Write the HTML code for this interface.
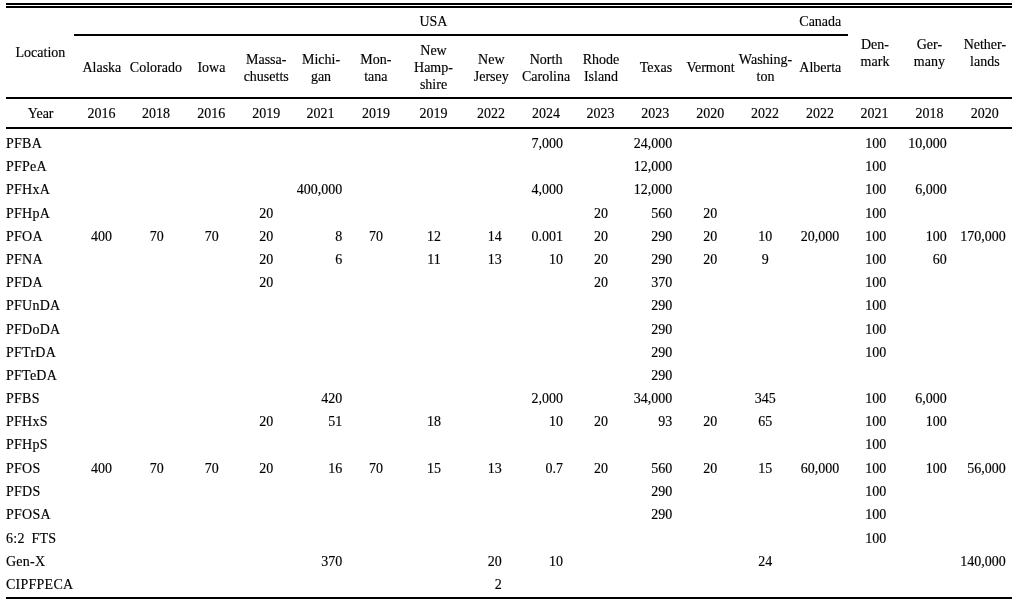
<!DOCTYPE html>
<html><head><meta charset="utf-8"><style>
html,body{margin:0;padding:0;background:#fff;width:1022px;height:603px;overflow:hidden}
body{position:relative;will-change:transform}
.t{position:absolute;font-family:"Liberation Serif",serif;font-size:14px;line-height:20px;height:20px;white-space:nowrap;color:#000;-webkit-text-stroke:0.15px #000}
.ln{position:absolute;background:#000}
</style></head><body>
<div class="ln" style="left:6px;top:3px;width:1006px;height:2px"></div>
<div class="ln" style="left:6px;top:6px;width:1006px;height:2px"></div>
<div class="ln" style="left:74px;top:34px;width:774px;height:2px"></div>
<div class="ln" style="left:6px;top:97px;width:1006px;height:2px"></div>
<div class="ln" style="left:6px;top:127px;width:1006px;height:2px"></div>
<div class="ln" style="left:6px;top:597px;width:1006px;height:2px"></div>
<div class="t" style="left:373.40px;width:120px;text-align:center;top:12.00px">USA</div>
<div class="t" style="left:760.30px;width:120px;text-align:center;top:12.00px">Canada</div>
<div class="t" style="left:-19.60px;width:120px;text-align:center;top:43.00px">Location</div>
<div class="t" style="left:41.90px;width:120px;text-align:center;top:58.10px">Alaska</div>
<div class="t" style="left:95.90px;width:120px;text-align:center;top:58.10px">Colorado</div>
<div class="t" style="left:151.40px;width:120px;text-align:center;top:58.10px">Iowa</div>
<div class="t" style="left:206.20px;width:120px;text-align:center;top:50.20px">Massa-</div>
<div class="t" style="left:206.20px;width:120px;text-align:center;top:66.70px">chusetts</div>
<div class="t" style="left:261.00px;width:120px;text-align:center;top:50.20px">Michi-</div>
<div class="t" style="left:261.00px;width:120px;text-align:center;top:66.70px">gan</div>
<div class="t" style="left:315.90px;width:120px;text-align:center;top:50.20px">Mon-</div>
<div class="t" style="left:315.90px;width:120px;text-align:center;top:66.70px">tana</div>
<div class="t" style="left:373.50px;width:120px;text-align:center;top:40.50px">New</div>
<div class="t" style="left:373.50px;width:120px;text-align:center;top:57.60px">Hamp-</div>
<div class="t" style="left:373.50px;width:120px;text-align:center;top:74.70px">shire</div>
<div class="t" style="left:431.30px;width:120px;text-align:center;top:50.20px">New</div>
<div class="t" style="left:431.30px;width:120px;text-align:center;top:66.70px">Jersey</div>
<div class="t" style="left:486.10px;width:120px;text-align:center;top:50.20px">North</div>
<div class="t" style="left:486.10px;width:120px;text-align:center;top:66.70px">Carolina</div>
<div class="t" style="left:541.00px;width:120px;text-align:center;top:50.20px">Rhode</div>
<div class="t" style="left:541.00px;width:120px;text-align:center;top:66.70px">Island</div>
<div class="t" style="left:596.00px;width:120px;text-align:center;top:58.10px">Texas</div>
<div class="t" style="left:650.50px;width:120px;text-align:center;top:58.10px">Vermont</div>
<div class="t" style="left:705.50px;width:120px;text-align:center;top:50.20px">Washing-</div>
<div class="t" style="left:705.50px;width:120px;text-align:center;top:66.70px">ton</div>
<div class="t" style="left:760.30px;width:120px;text-align:center;top:58.10px">Alberta</div>
<div class="t" style="left:815.00px;width:120px;text-align:center;top:34.70px">Den-</div>
<div class="t" style="left:815.00px;width:120px;text-align:center;top:52.00px">mark</div>
<div class="t" style="left:869.40px;width:120px;text-align:center;top:34.70px">Ger-</div>
<div class="t" style="left:869.40px;width:120px;text-align:center;top:52.00px">many</div>
<div class="t" style="left:924.90px;width:120px;text-align:center;top:34.70px">Nether-</div>
<div class="t" style="left:924.90px;width:120px;text-align:center;top:52.00px">lands</div>
<div class="t" style="left:-19.40px;width:120px;text-align:center;top:104.00px">Year</div>
<div class="t" style="left:41.50px;width:120px;text-align:center;top:104.00px">2016</div>
<div class="t" style="left:95.90px;width:120px;text-align:center;top:104.00px">2018</div>
<div class="t" style="left:151.20px;width:120px;text-align:center;top:104.00px">2016</div>
<div class="t" style="left:206.30px;width:120px;text-align:center;top:104.00px">2019</div>
<div class="t" style="left:260.50px;width:120px;text-align:center;top:104.00px">2021</div>
<div class="t" style="left:315.90px;width:120px;text-align:center;top:104.00px">2019</div>
<div class="t" style="left:373.40px;width:120px;text-align:center;top:104.00px">2019</div>
<div class="t" style="left:431.00px;width:120px;text-align:center;top:104.00px">2022</div>
<div class="t" style="left:486.00px;width:120px;text-align:center;top:104.00px">2024</div>
<div class="t" style="left:540.40px;width:120px;text-align:center;top:104.00px">2023</div>
<div class="t" style="left:595.30px;width:120px;text-align:center;top:104.00px">2023</div>
<div class="t" style="left:650.30px;width:120px;text-align:center;top:104.00px">2020</div>
<div class="t" style="left:704.90px;width:120px;text-align:center;top:104.00px">2022</div>
<div class="t" style="left:760.00px;width:120px;text-align:center;top:104.00px">2022</div>
<div class="t" style="left:814.40px;width:120px;text-align:center;top:104.00px">2021</div>
<div class="t" style="left:869.60px;width:120px;text-align:center;top:104.00px">2018</div>
<div class="t" style="left:924.80px;width:120px;text-align:center;top:104.00px">2020</div>
<div class="t" style="left:6.00px;top:134.00px;letter-spacing:0.25px">PFBA</div>
<div class="t" style="left:442.90px;width:120px;text-align:right;top:134.00px">7,000</div>
<div class="t" style="left:552.20px;width:120px;text-align:right;top:134.00px">24,000</div>
<div class="t" style="left:815.70px;width:120px;text-align:center;top:134.00px">100</div>
<div class="t" style="left:826.70px;width:120px;text-align:right;top:134.00px">10,000</div>
<div class="t" style="left:6.00px;top:157.00px;letter-spacing:0.25px">PFPeA</div>
<div class="t" style="left:552.20px;width:120px;text-align:right;top:157.00px">12,000</div>
<div class="t" style="left:815.70px;width:120px;text-align:center;top:157.00px">100</div>
<div class="t" style="left:6.00px;top:180.00px;letter-spacing:0.25px">PFHxA</div>
<div class="t" style="left:222.20px;width:120px;text-align:right;top:180.00px">400,000</div>
<div class="t" style="left:442.90px;width:120px;text-align:right;top:180.00px">4,000</div>
<div class="t" style="left:552.20px;width:120px;text-align:right;top:180.00px">12,000</div>
<div class="t" style="left:815.70px;width:120px;text-align:center;top:180.00px">100</div>
<div class="t" style="left:826.70px;width:120px;text-align:right;top:180.00px">6,000</div>
<div class="t" style="left:6.00px;top:204.00px;letter-spacing:0.25px">PFHpA</div>
<div class="t" style="left:206.20px;width:120px;text-align:center;top:204.00px">20</div>
<div class="t" style="left:541.00px;width:120px;text-align:center;top:204.00px">20</div>
<div class="t" style="left:552.20px;width:120px;text-align:right;top:204.00px">560</div>
<div class="t" style="left:650.30px;width:120px;text-align:center;top:204.00px">20</div>
<div class="t" style="left:815.70px;width:120px;text-align:center;top:204.00px">100</div>
<div class="t" style="left:6.00px;top:227.00px;letter-spacing:0.25px">PFOA</div>
<div class="t" style="left:41.50px;width:120px;text-align:center;top:227.00px">400</div>
<div class="t" style="left:96.70px;width:120px;text-align:center;top:227.00px">70</div>
<div class="t" style="left:151.80px;width:120px;text-align:center;top:227.00px">70</div>
<div class="t" style="left:206.20px;width:120px;text-align:center;top:227.00px">20</div>
<div class="t" style="left:222.20px;width:120px;text-align:right;top:227.00px">8</div>
<div class="t" style="left:316.00px;width:120px;text-align:center;top:227.00px">70</div>
<div class="t" style="left:374.00px;width:120px;text-align:center;top:227.00px">12</div>
<div class="t" style="left:381.70px;width:120px;text-align:right;top:227.00px">14</div>
<div class="t" style="left:442.90px;width:120px;text-align:right;top:227.00px">0.001</div>
<div class="t" style="left:541.00px;width:120px;text-align:center;top:227.00px">20</div>
<div class="t" style="left:552.20px;width:120px;text-align:right;top:227.00px">290</div>
<div class="t" style="left:650.30px;width:120px;text-align:center;top:227.00px">20</div>
<div class="t" style="left:705.20px;width:120px;text-align:center;top:227.00px">10</div>
<div class="t" style="left:760.00px;width:120px;text-align:center;top:227.00px">20,000</div>
<div class="t" style="left:815.70px;width:120px;text-align:center;top:227.00px">100</div>
<div class="t" style="left:826.70px;width:120px;text-align:right;top:227.00px">100</div>
<div class="t" style="left:885.80px;width:120px;text-align:right;top:227.00px">170,000</div>
<div class="t" style="left:6.00px;top:250.00px;letter-spacing:0.25px">PFNA</div>
<div class="t" style="left:206.20px;width:120px;text-align:center;top:250.00px">20</div>
<div class="t" style="left:222.20px;width:120px;text-align:right;top:250.00px">6</div>
<div class="t" style="left:374.00px;width:120px;text-align:center;top:250.00px">11</div>
<div class="t" style="left:381.70px;width:120px;text-align:right;top:250.00px">13</div>
<div class="t" style="left:442.90px;width:120px;text-align:right;top:250.00px">10</div>
<div class="t" style="left:541.00px;width:120px;text-align:center;top:250.00px">20</div>
<div class="t" style="left:552.20px;width:120px;text-align:right;top:250.00px">290</div>
<div class="t" style="left:650.30px;width:120px;text-align:center;top:250.00px">20</div>
<div class="t" style="left:705.20px;width:120px;text-align:center;top:250.00px">9</div>
<div class="t" style="left:815.70px;width:120px;text-align:center;top:250.00px">100</div>
<div class="t" style="left:826.70px;width:120px;text-align:right;top:250.00px">60</div>
<div class="t" style="left:6.00px;top:273.00px;letter-spacing:0.25px">PFDA</div>
<div class="t" style="left:206.20px;width:120px;text-align:center;top:273.00px">20</div>
<div class="t" style="left:541.00px;width:120px;text-align:center;top:273.00px">20</div>
<div class="t" style="left:552.20px;width:120px;text-align:right;top:273.00px">370</div>
<div class="t" style="left:815.70px;width:120px;text-align:center;top:273.00px">100</div>
<div class="t" style="left:6.00px;top:296.00px;letter-spacing:0.25px">PFUnDA</div>
<div class="t" style="left:552.20px;width:120px;text-align:right;top:296.00px">290</div>
<div class="t" style="left:815.70px;width:120px;text-align:center;top:296.00px">100</div>
<div class="t" style="left:6.00px;top:320.00px;letter-spacing:0.25px">PFDoDA</div>
<div class="t" style="left:552.20px;width:120px;text-align:right;top:320.00px">290</div>
<div class="t" style="left:815.70px;width:120px;text-align:center;top:320.00px">100</div>
<div class="t" style="left:6.00px;top:343.00px;letter-spacing:0.25px">PFTrDA</div>
<div class="t" style="left:552.20px;width:120px;text-align:right;top:343.00px">290</div>
<div class="t" style="left:815.70px;width:120px;text-align:center;top:343.00px">100</div>
<div class="t" style="left:6.00px;top:366.00px;letter-spacing:0.25px">PFTeDA</div>
<div class="t" style="left:552.20px;width:120px;text-align:right;top:366.00px">290</div>
<div class="t" style="left:6.00px;top:389.00px;letter-spacing:0.25px">PFBS</div>
<div class="t" style="left:222.20px;width:120px;text-align:right;top:389.00px">420</div>
<div class="t" style="left:442.90px;width:120px;text-align:right;top:389.00px">2,000</div>
<div class="t" style="left:552.20px;width:120px;text-align:right;top:389.00px">34,000</div>
<div class="t" style="left:705.20px;width:120px;text-align:center;top:389.00px">345</div>
<div class="t" style="left:815.70px;width:120px;text-align:center;top:389.00px">100</div>
<div class="t" style="left:826.70px;width:120px;text-align:right;top:389.00px">6,000</div>
<div class="t" style="left:6.00px;top:412.00px;letter-spacing:0.25px">PFHxS</div>
<div class="t" style="left:206.20px;width:120px;text-align:center;top:412.00px">20</div>
<div class="t" style="left:222.20px;width:120px;text-align:right;top:412.00px">51</div>
<div class="t" style="left:374.00px;width:120px;text-align:center;top:412.00px">18</div>
<div class="t" style="left:442.90px;width:120px;text-align:right;top:412.00px">10</div>
<div class="t" style="left:541.00px;width:120px;text-align:center;top:412.00px">20</div>
<div class="t" style="left:552.20px;width:120px;text-align:right;top:412.00px">93</div>
<div class="t" style="left:650.30px;width:120px;text-align:center;top:412.00px">20</div>
<div class="t" style="left:705.20px;width:120px;text-align:center;top:412.00px">65</div>
<div class="t" style="left:815.70px;width:120px;text-align:center;top:412.00px">100</div>
<div class="t" style="left:826.70px;width:120px;text-align:right;top:412.00px">100</div>
<div class="t" style="left:6.00px;top:435.00px;letter-spacing:0.25px">PFHpS</div>
<div class="t" style="left:815.70px;width:120px;text-align:center;top:435.00px">100</div>
<div class="t" style="left:6.00px;top:459.00px;letter-spacing:0.25px">PFOS</div>
<div class="t" style="left:41.50px;width:120px;text-align:center;top:459.00px">400</div>
<div class="t" style="left:96.70px;width:120px;text-align:center;top:459.00px">70</div>
<div class="t" style="left:151.80px;width:120px;text-align:center;top:459.00px">70</div>
<div class="t" style="left:206.20px;width:120px;text-align:center;top:459.00px">20</div>
<div class="t" style="left:222.20px;width:120px;text-align:right;top:459.00px">16</div>
<div class="t" style="left:316.00px;width:120px;text-align:center;top:459.00px">70</div>
<div class="t" style="left:374.00px;width:120px;text-align:center;top:459.00px">15</div>
<div class="t" style="left:381.70px;width:120px;text-align:right;top:459.00px">13</div>
<div class="t" style="left:442.90px;width:120px;text-align:right;top:459.00px">0.7</div>
<div class="t" style="left:541.00px;width:120px;text-align:center;top:459.00px">20</div>
<div class="t" style="left:552.20px;width:120px;text-align:right;top:459.00px">560</div>
<div class="t" style="left:650.30px;width:120px;text-align:center;top:459.00px">20</div>
<div class="t" style="left:705.20px;width:120px;text-align:center;top:459.00px">15</div>
<div class="t" style="left:760.00px;width:120px;text-align:center;top:459.00px">60,000</div>
<div class="t" style="left:815.70px;width:120px;text-align:center;top:459.00px">100</div>
<div class="t" style="left:826.70px;width:120px;text-align:right;top:459.00px">100</div>
<div class="t" style="left:885.80px;width:120px;text-align:right;top:459.00px">56,000</div>
<div class="t" style="left:6.00px;top:482.00px;letter-spacing:0.25px">PFDS</div>
<div class="t" style="left:552.20px;width:120px;text-align:right;top:482.00px">290</div>
<div class="t" style="left:815.70px;width:120px;text-align:center;top:482.00px">100</div>
<div class="t" style="left:6.00px;top:505.00px;letter-spacing:0.25px">PFOSA</div>
<div class="t" style="left:552.20px;width:120px;text-align:right;top:505.00px">290</div>
<div class="t" style="left:815.70px;width:120px;text-align:center;top:505.00px">100</div>
<div class="t" style="left:6.00px;top:529.00px;letter-spacing:0.25px;word-spacing:3px">6:2 FTS</div>
<div class="t" style="left:815.70px;width:120px;text-align:center;top:529.00px">100</div>
<div class="t" style="left:6.00px;top:552.00px;letter-spacing:0.25px">Gen-X</div>
<div class="t" style="left:222.20px;width:120px;text-align:right;top:552.00px">370</div>
<div class="t" style="left:381.70px;width:120px;text-align:right;top:552.00px">20</div>
<div class="t" style="left:442.90px;width:120px;text-align:right;top:552.00px">10</div>
<div class="t" style="left:705.20px;width:120px;text-align:center;top:552.00px">24</div>
<div class="t" style="left:885.80px;width:120px;text-align:right;top:552.00px">140,000</div>
<div class="t" style="left:6.00px;top:575.00px;letter-spacing:0.25px">CIPFPECA</div>
<div class="t" style="left:381.70px;width:120px;text-align:right;top:575.00px">2</div>
</body></html>
